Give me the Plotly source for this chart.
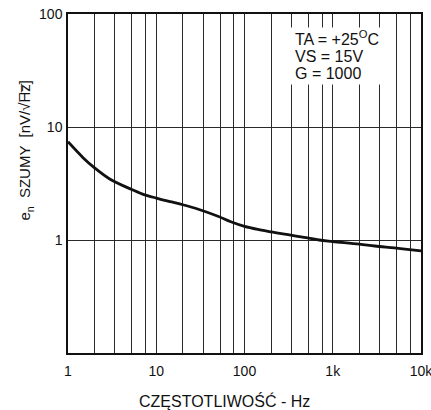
import plotly.graph_objects as go

# data
freq_hz = [1, 1.5, 2, 3, 5, 7, 10, 15, 20, 30, 50, 70, 100, 150, 200, 300, 500, 700,
           1000, 2000, 3000, 5000, 7000, 10000]
noise_nv = [7.4, 5.3, 4.35, 3.45, 2.85, 2.55, 2.35, 2.17, 2.05, 1.87, 1.62, 1.45, 1.32, 1.23,
            1.18, 1.12, 1.05, 1.0, 0.97, 0.92, 0.885, 0.85, 0.825, 0.80]

x_grid = [1, 2, 3.4, 5.3, 7.6, 10, 20, 34, 53, 76, 100, 200, 340, 530, 760,
          1000, 2000, 3400, 5300, 7600, 10000]
x_labels = {1: "1", 10: "10", 100: "100", 1000: "1k", 10000: "10k"}
x_ticktext = [x_labels.get(v, "") for v in x_grid]

y_grid = [0.1, 1, 10, 100]
y_ticktext = ["", "1", "10", "100"]

cond_lines = ["TA = +25<sup>O</sup>C", "VS = 15V", "G = 1000"]

FONT = "Liberation Sans, Arial, Helvetica, sans-serif"

fig = go.Figure()
fig.add_trace(go.Scatter(
    x=freq_hz, y=noise_nv, mode="lines",
    line=dict(color="#111111", width=2.8, shape="spline", smoothing=1.0),
    hoverinfo="skip", showlegend=False,
))

fig.update_layout(
    width=431, height=410,
    margin=dict(l=68, r=10, t=14, b=57, autoexpand=False),
    paper_bgcolor="white", plot_bgcolor="white",
    font=dict(family=FONT, color="#111111", size=14),
    showlegend=False,
)
fig.update_xaxes(
    type="log", range=[0, 4], automargin=False,
    tickmode="array", tickvals=x_grid, ticktext=x_ticktext,
    showgrid=True, gridcolor="#2a2a2a", gridwidth=1,
    showline=True, mirror=True, linecolor="#111111", linewidth=1.5,
    ticks="", ticklabelstandoff=4, ticklabeloverflow="allow", zeroline=False,
    tickfont=dict(size=14),
)
fig.update_yaxes(
    type="log", range=[-1, 2], automargin=False,
    tickmode="array", tickvals=y_grid, ticktext=y_ticktext,
    showgrid=True, gridcolor="#2a2a2a", gridwidth=1,
    showline=True, mirror=True, linecolor="#111111", linewidth=1.5,
    ticks="", ticklabelstandoff=1, zeroline=False,
    tickfont=dict(size=14),
)

fig.add_annotation(
    xref="paper", yref="paper", x=0.444, y=-0.142,
    xanchor="center", yanchor="middle", showarrow=False,
    text="CZĘSTOTLIWOŚĆ - Hz", font=dict(size=16),
)
fig.add_annotation(
    xref="paper", yref="paper", x=-0.119, y=0.60,
    xanchor="center", yanchor="middle", showarrow=False, textangle=-90,
    text="e<sub>n</sub>  SZUMY  [nV/√H\u0305z\u0305]", font=dict(size=15),
)
# white panel behind the conditions text
fig.add_annotation(
    xref="paper", yref="paper", x=0.629, y=0.9617,
    xanchor="left", yanchor="top", showarrow=False,
    text="", width=95, height=56, bgcolor="white", borderpad=0,
)
for txt, yp in zip(cond_lines, [0.928, 0.876, 0.8245]):
    fig.add_annotation(
        xref="paper", yref="paper", x=0.637, y=yp,
        xanchor="left", yanchor="middle", showarrow=False, align="left",
        text=txt, font=dict(size=16),
    )

fig.write_html(
    "out.html",
    config={"displayModeBar": False},
    post_script="document.body.style.margin='0';document.body.style.overflow='hidden';",
)
